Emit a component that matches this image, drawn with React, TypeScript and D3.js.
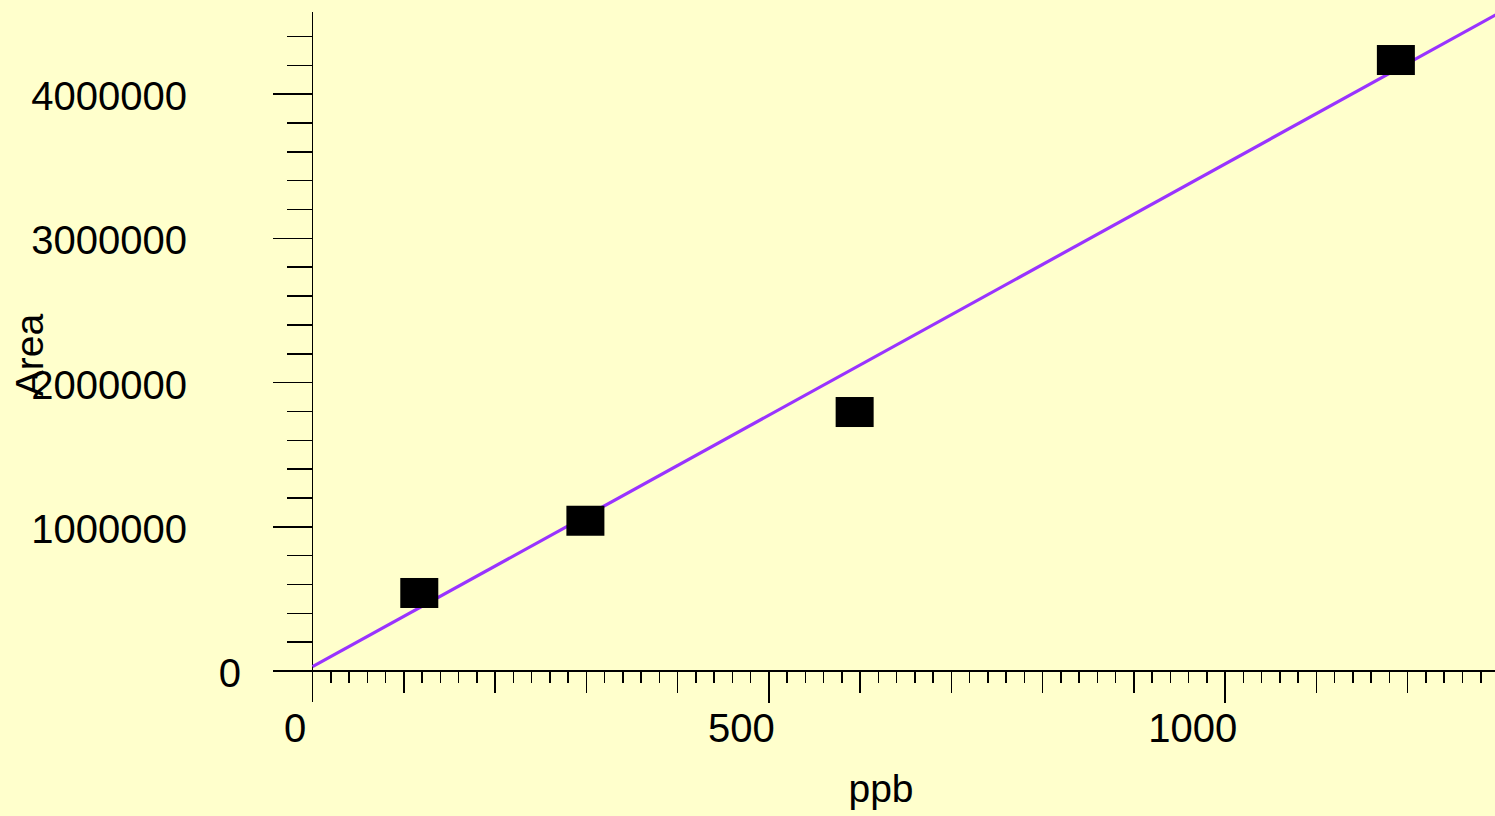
import React, { useEffect, useRef } from 'react';
import * as d3 from 'd3';

// calibration standards
const ppb = [117, 299, 594, 1187];
const area = [541000, 1042000, 1796000, 4237000];

// fitted calibration line, two ends
const fitPpb = [0, 1300];
const fitArea = [30000, 4563000];

const xMajorTicks = [0, 500, 1000];
const yMajorTicks = [0, 1000000, 2000000, 3000000, 4000000];

const W = 1495;
const H = 816;

export default function App() {
  const ref = useRef<SVGSVGElement | null>(null);

  useEffect(() => {
    const svg = d3.select(ref.current);
    svg.selectAll('*').remove();

    const x = d3.scaleLinear().domain([0, 1300]).range([312.5, 312.5 + 1300 * 0.9127]);
    const y = d3.scaleLinear().domain([0, 4570000]).range([671, 12]);
    const x0 = x(0);
    const y0 = y(0);

    svg.append('rect').attr('width', W).attr('height', H).attr('fill', '#ffffcc');

    const axes = svg.append('g').attr('stroke', '#000').attr('stroke-width', 1.5)
      .attr('shape-rendering', 'crispEdges');

    // y axis line, runs a bit below the x axis
    axes.append('line').attr('x1', x0).attr('x2', x0).attr('y1', y.range()[1]).attr('y2', 702);
    // x axis line, starts left of the y axis
    axes.append('line').attr('x1', 273).attr('x2', W).attr('y1', y0).attr('y2', y0);

    // y ticks: minor every 200000, major every 1000000
    const yTicks = d3.range(0, 4570001, 200000);
    axes.selectAll('.ytick')
      .data(yTicks)
      .enter().append('line')
      .attr('class', 'ytick')
      .attr('x1', (d) => (d % 1000000 === 0 ? 273 : 287))
      .attr('x2', x0)
      .attr('y1', (d) => y(d))
      .attr('y2', (d) => y(d));

    // x ticks: every 20, longer every 100, longest every 500
    const xTicks = d3.range(20, 1300, 20);
    axes.selectAll('.xtick')
      .data(xTicks)
      .enter().append('line')
      .attr('class', 'xtick')
      .attr('x1', (d) => x(d))
      .attr('x2', (d) => x(d))
      .attr('y1', y0)
      .attr('y2', (d) => {
        if (d % 500 === 0) return y0 + 32;
        if (d % 100 === 0) return y0 + 22;
        return y0 + 12;
      });

    const font = 'Liberation Sans, Arial, sans-serif';

    // the zero label sits closer to the axis than the others
    svg.selectAll('.ylabel')
      .data(yMajorTicks)
      .enter().append('text')
      .attr('class', 'ylabel')
      .attr('x', (d) => (d === 0 ? 241 : 187))
      .attr('y', (d) => y(d) + 16)
      .attr('text-anchor', 'end')
      .style('font-family', font)
      .style('font-size', '40px')
      .style('fill', '#000')
      .text((d) => String(d));

    svg.selectAll('.xlabel')
      .data(xMajorTicks)
      .enter().append('text')
      .attr('class', 'xlabel')
      .attr('x', (d) => x(d) - 12.5 - 5 * String(d).length)
      .attr('y', 742)
      .attr('text-anchor', 'middle')
      .style('font-family', font)
      .style('font-size', '40px')
      .style('fill', '#000')
      .text((d) => String(d));

    svg.append('text')
      .attr('x', 881)
      .attr('y', 802)
      .attr('text-anchor', 'middle')
      .style('font-family', font)
      .style('font-size', '39px')
      .style('fill', '#000')
      .text('ppb');

    svg.append('text')
      .attr('transform', 'translate(43,355) rotate(-90)')
      .attr('text-anchor', 'middle')
      .style('font-family', font)
      .style('font-size', '39px')
      .style('fill', '#000')
      .text('Area');

    // calibration line
    const line = d3.line<number>()
      .x((d) => x(fitPpb[d]))
      .y((d) => y(fitArea[d]));

    svg.append('path')
      .datum([0, 1])
      .attr('fill', 'none')
      .attr('stroke', '#9933ff')
      .attr('stroke-width', 3.2)
      .attr('d', line);

    // standards as black squares
    svg.selectAll('.pt')
      .data(ppb.map((p, i) => ({ p, a: area[i] })))
      .enter().append('rect')
      .attr('class', 'pt')
      .attr('x', (d) => x(d.p) - 19)
      .attr('y', (d) => y(d.a) - 15)
      .attr('width', 38)
      .attr('height', 30)
      .attr('fill', '#000');
  }, []);

  return (
    <svg
      ref={ref}
      width={W}
      height={H}
      style={{ position: 'absolute', left: 0, top: 0, display: 'block' }}
    />
  );
}
